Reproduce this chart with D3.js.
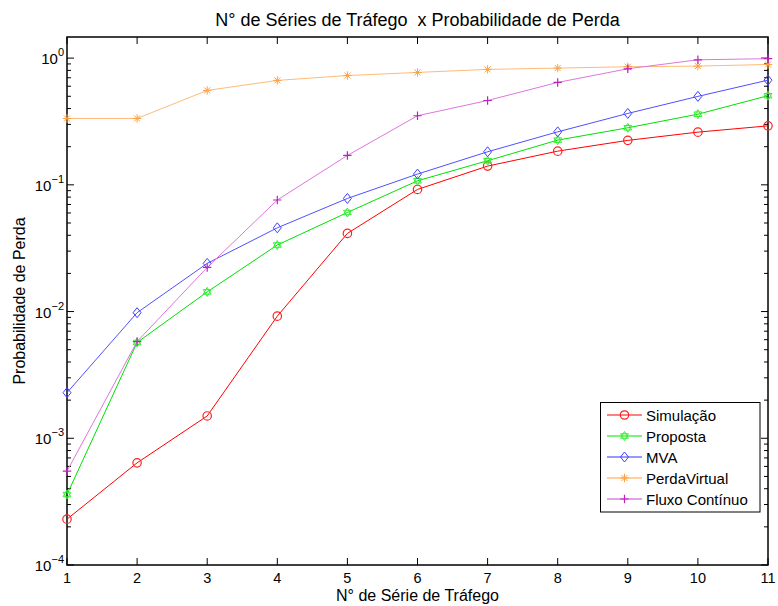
<!DOCTYPE html>
<html>
<head>
<meta charset="utf-8">
<script src="https://cdn.jsdelivr.net/npm/d3@7"></script>
<style>
  body { margin: 0; background: #fff; }
  svg text { font-family: "Liberation Sans", Arial, Helvetica, sans-serif; fill: #000; white-space: pre; }
</style>
</head>
<body>
<svg id="chart" width="778" height="606"></svg>
<script>
// Number of traffic series on the x axis
const seriesCount = [1, 2, 3, 4, 5, 6, 7, 8, 9, 10, 11];

// Loss probability for each method
const simulacao   = [2.3e-4, 6.4e-4, 1.5e-3, 9.2e-3, 0.0414, 0.092, 0.1406, 0.1845, 0.2244, 0.2606, 0.292];
const proposta    = [3.6e-4, 5.7e-3, 0.0143, 0.0335, 0.0605, 0.1076, 0.155, 0.2254, 0.282, 0.361, 0.505];
const mva         = [2.29e-3, 9.8e-3, 0.024, 0.0458, 0.0781, 0.1216, 0.1824, 0.262, 0.366, 0.499, 0.67];
const perdaVirtual = [0.334, 0.334, 0.556, 0.667, 0.729, 0.771, 0.815, 0.834, 0.855, 0.865, 0.891];
const fluxoContinuo = [5.5e-4, 5.8e-3, 0.0223, 0.0759, 0.1706, 0.351, 0.463, 0.643, 0.824, 0.97, 0.99];

const seriesNames = ["Simulação", "Proposta", "MVA", "PerdaVirtual", "Fluxo Contínuo"];
const xTicks = [1, 2, 3, 4, 5, 6, 7, 8, 9, 10, 11];
const yDecades = [-4, -3, -2, -1, 0];

const series = [
  { name: seriesNames[0], values: simulacao,    line: "#ff0000", legendLine: "#ff0000", mark: "#ff2020", symbol: "circle" },
  { name: seriesNames[1], values: proposta,     line: "#00e000", legendLine: "#00e000", mark: "#33ee33", symbol: "hexagram" },
  { name: seriesNames[2], values: mva,          line: "#5050ff", legendLine: "#3030ff", mark: "#4040ff", symbol: "diamond" },
  { name: seriesNames[3], values: perdaVirtual, line: "#ffbb77", legendLine: "#ffa040", mark: "#ffa040", symbol: "asterisk" },
  { name: seriesNames[4], values: fluxoContinuo, line: "#dd77dd", legendLine: "#cc44cc", mark: "#c020c0", symbol: "plus" }
];

const svg = d3.select("#chart");
const m = { left: 67, right: 768, top: 37, bottom: 565 };

const x = d3.scaleLinear().domain([1, 11]).range([m.left, m.right]);
const y = d3.scaleLog().domain([1e-4, Math.pow(10, 0.1667)]).range([m.bottom, m.top]);

// Title and axis labels
svg.append("text").attr("x", (m.left + m.right) / 2).attr("y", 26)
  .attr("text-anchor", "middle").attr("font-size", 18)
  .text("N° de Séries de Tráfego  x Probabilidade de Perda");
svg.append("text").attr("x", (m.left + m.right) / 2).attr("y", 601)
  .attr("text-anchor", "middle").attr("font-size", 16)
  .text("N° de Série de Tráfego");
svg.append("text").attr("transform", `translate(25,${(m.top + m.bottom) / 2}) rotate(-90)`)
  .attr("text-anchor", "middle").attr("font-size", 16)
  .text("Probabilidade de Perda");

// Axes frame
const axes = svg.append("g");
axes.append("rect").attr("x", m.left).attr("y", m.top)
  .attr("width", m.right - m.left).attr("height", m.bottom - m.top)
  .attr("fill", "none").attr("stroke", "#000").attr("stroke-width", 1.5);

// X ticks (inward, bottom and top) with labels
xTicks.forEach(t => {
  const px = x(t);
  axes.append("line").attr("x1", px).attr("x2", px).attr("y1", m.bottom).attr("y2", m.bottom - 7)
    .attr("stroke", "#000").attr("stroke-width", 1);
  axes.append("line").attr("x1", px).attr("x2", px).attr("y1", m.top).attr("y2", m.top + 7)
    .attr("stroke", "#000").attr("stroke-width", 1);
  axes.append("text").attr("x", px).attr("y", m.bottom + 17.5)
    .attr("text-anchor", "middle").attr("font-size", 14.5).text(t);
});

// Y ticks: major decades with labels, minor ticks between
const hi = y.domain()[1];
yDecades.forEach(d => {
  const v = Math.pow(10, d);
  const py = y(v);
  axes.append("line").attr("x1", m.left).attr("x2", m.left + 7).attr("y1", py).attr("y2", py)
    .attr("stroke", "#000").attr("stroke-width", 1);
  axes.append("line").attr("x1", m.right).attr("x2", m.right - 7).attr("y1", py).attr("y2", py)
    .attr("stroke", "#000").attr("stroke-width", 1);
  const lbl = axes.append("text").attr("x", m.left - 3).attr("y", py + 6)
    .attr("text-anchor", "end").attr("font-size", 15);
  lbl.append("tspan").text("10");
  lbl.append("tspan").attr("dy", -8).attr("font-size", 11)
    .text(d < 0 ? "\u2212" + Math.abs(d) : String(d));
  for (let k = 2; k <= 9; k++) {
    const mv = k * v;
    if (mv > hi) continue;
    const my = y(mv);
    axes.append("line").attr("x1", m.left).attr("x2", m.left + 4).attr("y1", my).attr("y2", my)
      .attr("stroke", "#000").attr("stroke-width", 1);
    axes.append("line").attr("x1", m.right).attr("x2", m.right - 4).attr("y1", my).attr("y2", my)
      .attr("stroke", "#000").attr("stroke-width", 1);
  }
});

// Marker shapes
function drawMarker(g, sym, cx, cy, color) {
  const s = 4.2;
  if (sym === "circle") {
    g.append("circle").attr("cx", cx).attr("cy", cy).attr("r", s)
      .attr("fill", "none").attr("stroke", color).attr("stroke-width", 1.2);
  } else if (sym === "diamond") {
    g.append("path").attr("d", `M${cx},${cy - 5}L${cx + 4},${cy}L${cx},${cy + 5}L${cx - 4},${cy}Z`)
      .attr("fill", "none").attr("stroke", color).attr("stroke-width", 1);
  } else if (sym === "plus") {
    g.append("path").attr("d", `M${cx - s},${cy}H${cx + s}M${cx},${cy - s}V${cy + s}`)
      .attr("stroke", color).attr("stroke-width", 1.2);
  } else if (sym === "asterisk") {
    const d = s * 0.72;
    g.append("path").attr("d", `M${cx - s},${cy}H${cx + s}M${cx},${cy - s}V${cy + s}` +
      `M${cx - d},${cy - d}L${cx + d},${cy + d}M${cx - d},${cy + d}L${cx + d},${cy - d}`)
      .attr("stroke", color).attr("stroke-width", 1);
  } else if (sym === "hexagram") {
    const r = 4.5;
    const tri = a => d3.range(3).map(i => {
      const ang = a + i * 2 * Math.PI / 3;
      return [cx + r * Math.cos(ang), cy + r * Math.sin(ang)];
    });
    const p = pts => "M" + pts.map(q => q.join(",")).join("L") + "Z";
    g.append("path").attr("d", p(tri(-Math.PI / 2)) + p(tri(Math.PI / 2)))
      .attr("fill", "none").attr("stroke", color).attr("stroke-width", 1);
  }
}

// Series lines and markers
const line = d3.line().x((d, i) => x(seriesCount[i])).y(d => y(d));
const plot = svg.append("g");
series.forEach(s => {
  plot.append("path").datum(s.values).attr("d", line)
    .attr("fill", "none").attr("stroke", s.line).attr("stroke-width", 1);
  s.values.forEach((v, i) => drawMarker(plot, s.symbol, x(seriesCount[i]), y(v), s.mark));
});

// Legend
const lg = svg.append("g");
lg.append("rect").attr("x", 600.5).attr("y", 402.5).attr("width", 159.5).attr("height", 109.5)
  .attr("fill", "#fff").attr("stroke", "#000").attr("stroke-width", 1);
series.forEach((s, i) => {
  const ly = 415 + i * 21;
  lg.append("line").attr("x1", 607).attr("x2", 642).attr("y1", ly).attr("y2", ly)
    .attr("stroke", s.legendLine).attr("stroke-width", 1);
  drawMarker(lg, s.symbol, 624.5, ly, s.mark);
  lg.append("text").attr("x", 646).attr("y", ly + 5.5).attr("font-size", 15).text(s.name);
});
</script>
</body>
</html>
